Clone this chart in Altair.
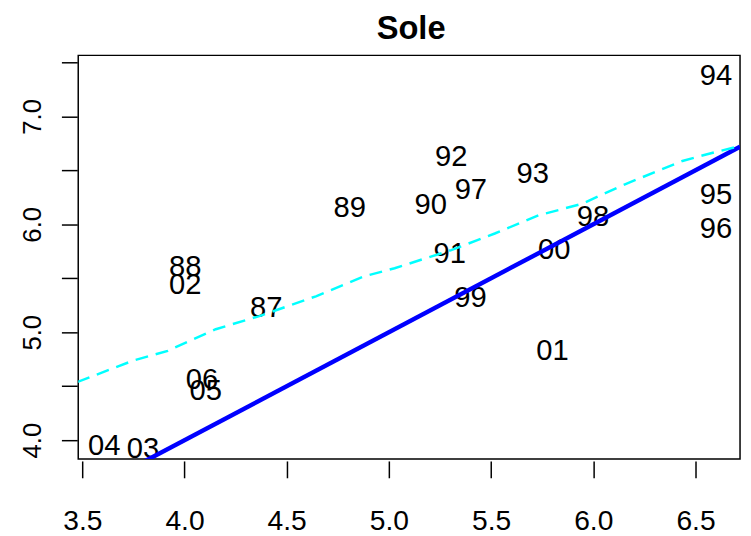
import altair as alt
import pandas as pd

# Year labels and their (x, y) positions
years = ["87", "88", "89", "90", "91", "92", "93", "94", "95", "96",
         "97", "98", "99", "00", "01", "02", "03", "04", "05", "06"]
x_vals = [4.400, 4.003, 4.808, 5.205, 5.298, 5.305, 5.704, 6.600, 6.600, 6.600,
          5.401, 5.999, 5.399, 5.809, 5.800, 4.003, 3.797, 3.607, 4.104, 4.085]
y_vals = [5.228, 5.599, 6.148, 6.179, 5.725, 6.621, 6.468, 7.369, 6.271, 5.953,
          6.319, 6.066, 5.313, 5.761, 4.825, 5.441, 3.915, 3.947, 4.456, 4.556]

# Smooth (dashed cyan) curve
curve_x = [3.476, 3.748, 3.918, 4.025, 4.153, 4.366, 4.643, 4.878, 5.028, 5.305,
           5.433, 5.518, 5.732, 5.945, 6.158, 6.436, 6.585, 6.718]
curve_y = [4.539, 4.737, 4.828, 4.920, 5.028, 5.150, 5.333, 5.517, 5.593, 5.761,
           5.853, 5.915, 6.083, 6.190, 6.373, 6.587, 6.663, 6.725]

# 1:1 reference line (intercept, slope)
ab_intercept = 0.0
ab_slope = 1.0

title_text = ["Sole"]

x_domain = [3.48, 6.718]
y_domain = [3.826, 7.565]
x_ticks = [3.5, 4.0, 4.5, 5.0, 5.5, 6.0, 6.5]
y_ticks = [4.0, 4.5, 5.0, 5.5, 6.0, 6.5, 7.0, 7.5]

pts = pd.DataFrame({"x": x_vals, "y": y_vals, "lab": years})
curve = pd.DataFrame({"x": curve_x, "y": curve_y})
ab = pd.DataFrame({"x": x_domain,
                   "y": [ab_intercept + ab_slope * v for v in x_domain]})
ttl = pd.DataFrame({"t": title_text})

FONT = "Liberation Sans"
W, H = 669, 408

xs = alt.Scale(domain=x_domain, nice=False, zero=False)
ys = alt.Scale(domain=y_domain, nice=False, zero=False)

x_axis = alt.Axis(values=x_ticks, format=".1f", title=None, grid=False,
                  domain=False, tickSize=17, tickWidth=1.5, tickColor="black",
                  offset=2, labelFontSize=28.5, labelFont=FONT, labelColor="black",
                  labelPadding=29.5, labelFlush=False, labelOverlap=False)
y_axis = alt.Axis(values=y_ticks, format=".1f", title=None, grid=False,
                  domain=False, tickSize=16, tickWidth=1.5, tickColor="black",
                  offset=1, labelFontSize=26, labelFont=FONT, labelColor="black",
                  labelAngle=-90, labelPadding=16.5, labelFlush=False,
                  labelOverlap=False,
                  labelExpr="datum.value % 1 == 0 ? datum.label : ''")

text = alt.Chart(pts).mark_text(fontSize=29.5, font=FONT, color="black",
                                align="center", baseline="middle",
                                clip=True).encode(
    x=alt.X("x:Q", scale=xs, axis=x_axis),
    y=alt.Y("y:Q", scale=ys, axis=y_axis),
    text="lab:N",
)

blue = alt.Chart(ab).mark_line(color="#0000FF", strokeWidth=4.5,
                               clip=True).encode(
    x=alt.X("x:Q", scale=xs),
    y=alt.Y("y:Q", scale=ys),
)

cyan = alt.Chart(curve).mark_line(color="#00FFFF", strokeWidth=2.5,
                                  strokeDash=[13, 8], clip=True).encode(
    x=alt.X("x:Q", scale=xs),
    y=alt.Y("y:Q", scale=ys),
)

title = alt.Chart(ttl).mark_text(fontSize=33, font=FONT, fontWeight="bold",
                                 color="black", align="center",
                                 baseline="alphabetic").encode(
    x=alt.value(W / 2 + 2),
    y=alt.value(-17),
    text="t:N",
)

chart = alt.layer(text, blue, cyan, title).properties(
    width=W, height=H,
    autosize=alt.AutoSizeParams(type="none"),
    padding={"left": 71, "top": 45, "right": 3, "bottom": 78},
).configure_view(stroke="black", strokeWidth=1.5)

chart.save("out.html", embed_options={"renderer": "svg", "actions": False})
